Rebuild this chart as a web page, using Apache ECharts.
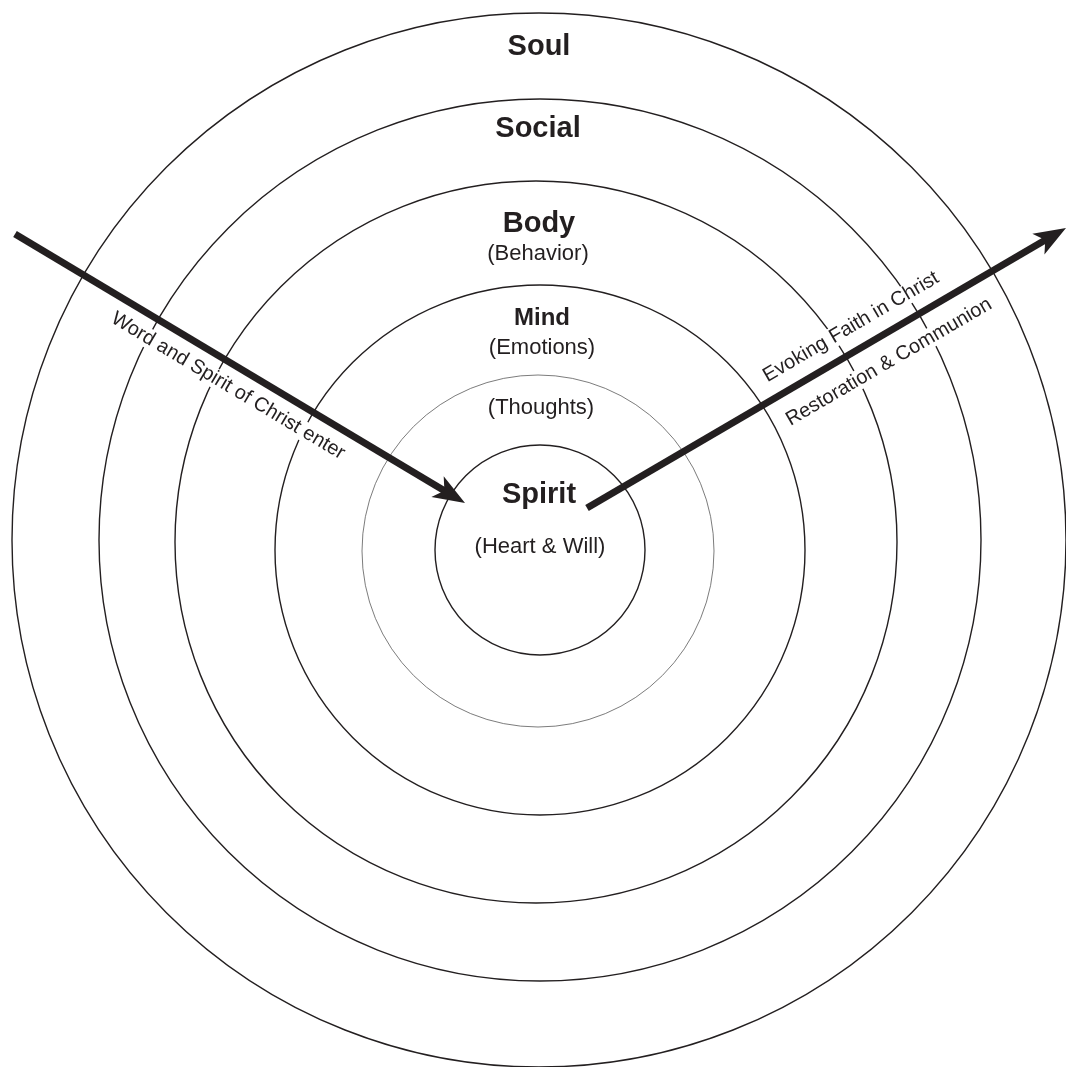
<!DOCTYPE html>
<html>
<head>
<meta charset="utf-8">
<script src="https://cdn.jsdelivr.net/npm/echarts@6/dist/echarts.min.js"></script>
<style>
  html, body { margin: 0; padding: 0; background: #fff; }
  #chart { width: 1066px; height: 1067px; }
</style>
</head>
<body>
<div id="chart"></div>
<script>
// rings, from the centre out (data units, y up, centre of Spirit at 0,0)
const ringNames = ['Spirit', 'Thoughts', 'Mind', 'Body', 'Social', 'Soul'];
const ringRadius = [105, 176, 265, 361, 441, 527];
const ringCenterX = [0, -2, 0, -4, 0, -1];
const ringCenterY = [0, -1, 0, 8, 10, 10];

// bold ring titles and the notes under them
const titleText = ['Soul', 'Social', 'Body', 'Mind', 'Spirit'];
const titleX = [-1, -2, -1, 2, -1];
const titleY = [503, 421, 326, 232, 55];
const noteText = ['(Behavior)', '(Emotions)', '(Thoughts)', '(Heart & Will)'];
const noteX = [-2, 2, 1, 0];
const noteY = [296, 202, 142, 3];

// the two arrows: in and out
const arrowFrom = [[-525, 316], [47, 42]];
const arrowTo = [[-75, 47], [526, 322]];

// text written along the arrows
const arrowLabels = ['Word and Spirit of Christ enter', 'Evoking Faith in Christ', 'Restoration & Communion'];
const arrowLabelX = [-312, 311, 349];
const arrowLabelY = [164, 223, 188];
const arrowLabelOf = [0, 1, 1];

const ink = '#231f20';
const fontFamily = '"Liberation Sans", Arial, Helvetica, sans-serif';

const myChart = echarts.init(document.getElementById('chart'));

const ringData = ringNames.map((n, i) => [ringCenterX[i], ringCenterY[i], ringRadius[i], i]);
const arrowData = arrowFrom.map((p, i) => [p[0], p[1], arrowTo[i][0], arrowTo[i][1]]);
const titleData = titleText.map((t, i) => [titleX[i], titleY[i], i]);
const noteData = noteText.map((t, i) => [noteX[i], noteY[i], i]);
const arrowLabelData = arrowLabels.map((t, i) => [arrowLabelX[i], arrowLabelY[i], i]);

const option = {
  backgroundColor: '#fff',
  animation: false,
  grid: { left: 0, right: 0, top: 0, bottom: 0 },
  xAxis: { type: 'value', min: -540, max: 526, show: false },
  yAxis: { type: 'value', min: -517, max: 550, show: false },
  series: [
    {
      // rings
      type: 'custom',
      data: ringData,
      encode: { x: 0, y: 1 },
      renderItem: (params, api) => {
        const c = api.coord([api.value(0), api.value(1)]);
        const r = api.size([api.value(2), 0])[0];
        const thin = ringNames[api.value(3)] === 'Thoughts';
        return {
          type: 'circle',
          shape: { cx: c[0], cy: c[1], r: r },
          style: { fill: 'none', stroke: thin ? '#5a5a5a' : ink, lineWidth: thin ? 0.8 : 1.4 },
        };
      },
    },
    {
      // arrows
      type: 'custom',
      data: arrowData,
      encode: { x: [0, 2], y: [1, 3] },
      z: 3,
      renderItem: (params, api) => {
        const a = api.coord([api.value(0), api.value(1)]);
        const b = api.coord([api.value(2), api.value(3)]);
        const dx = b[0] - a[0];
        const dy = b[1] - a[1];
        const len = Math.sqrt(dx * dx + dy * dy);
        const ux = dx / len, uy = dy / len;
        const nx = -uy, ny = ux;
        const headLen = 32, headHalf = 12, notch = 8;
        const bx = b[0] - ux * headLen, by = b[1] - uy * headLen;
        const mx = b[0] - ux * (headLen - notch), my = b[1] - uy * (headLen - notch);
        return {
          type: 'group',
          children: [
            {
              type: 'line',
              shape: { x1: a[0], y1: a[1], x2: mx + ux * 2, y2: my + uy * 2 },
              style: { stroke: ink, lineWidth: 7, lineCap: 'butt' },
            },
            {
              type: 'polygon',
              shape: { points: [b, [bx + nx * headHalf, by + ny * headHalf], [mx, my], [bx - nx * headHalf, by - ny * headHalf]] },
              style: { fill: ink },
            },
          ],
        };
      },
    },
    {
      // labels along the arrows
      type: 'custom',
      data: arrowLabelData,
      encode: { x: 0, y: 1 },
      z: 4,
      renderItem: (params, api) => {
        const i = api.value(2);
        const k = arrowLabelOf[i];
        const p = api.coord([api.value(0), api.value(1)]);
        const a = api.coord(arrowFrom[k]);
        const b = api.coord(arrowTo[k]);
        const angle = -Math.atan2(b[1] - a[1], b[0] - a[0]);
        return {
          type: 'text',
          x: p[0],
          y: p[1],
          rotation: angle,
          style: {
            text: arrowLabels[i],
            fill: ink,
            font: '20px ' + fontFamily,
            align: 'center',
            verticalAlign: 'middle',
            backgroundColor: '#fff',
            padding: [0, 4],
          },
        };
      },
    },
    {
      // bold titles
      type: 'custom',
      data: titleData,
      encode: { x: 0, y: 1 },
      z: 5,
      renderItem: (params, api) => {
        const i = api.value(2);
        const p = api.coord([api.value(0), api.value(1)]);
        const size = titleText[i] === 'Mind' ? 24 : 29;
        return {
          type: 'text',
          x: p[0],
          y: p[1],
          style: {
            text: titleText[i],
            fill: ink,
            font: 'bold ' + size + 'px ' + fontFamily,
            align: 'center',
            verticalAlign: 'middle',
          },
        };
      },
    },
    {
      // notes in brackets
      type: 'custom',
      data: noteData,
      encode: { x: 0, y: 1 },
      z: 5,
      renderItem: (params, api) => {
        const i = api.value(2);
        const p = api.coord([api.value(0), api.value(1)]);
        return {
          type: 'text',
          x: p[0],
          y: p[1],
          style: {
            text: noteText[i],
            fill: ink,
            font: '22px ' + fontFamily,
            align: 'center',
            verticalAlign: 'middle',
          },
        };
      },
    },
  ],
};

myChart.setOption(option);

window.addEventListener('resize', () => {
  myChart.resize();
});
</script>
</body>
</html>
